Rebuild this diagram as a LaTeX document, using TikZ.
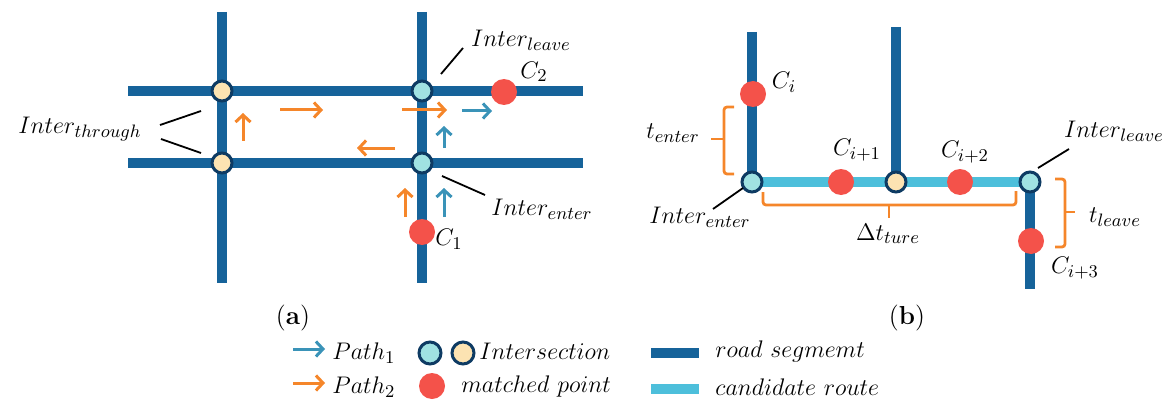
\documentclass[tikz,border=0pt]{standalone}
\usetikzlibrary{arrows.meta}
\DeclareMathSizes{12}{12}{9.5}{7}
\DeclareMathSizes{13}{13}{9.5}{7}
\definecolor{road}{HTML}{16639A}
\definecolor{cand}{HTML}{4DBFDB}
\definecolor{cyanf}{HTML}{A0E2E2}
\definecolor{yelf}{HTML}{FCE3B2}
\definecolor{navy}{HTML}{0E3B63}
\definecolor{redpt}{HTML}{F4524A}
\definecolor{orng}{HTML}{F5862A}
\definecolor{bluea}{HTML}{3A93B8}
\tikzset{
  roadln/.style={draw=road,line width=5pt},
  candln/.style={draw=cand,line width=5pt},
  inter/.style={circle,draw=navy,line width=1.5pt,minimum size=10pt,inner sep=0pt},
  ic/.style={inter,fill=cyanf},
  iy/.style={inter,fill=yelf},
  mpt/.style={circle,fill=redpt,minimum size=13pt,inner sep=0pt},
  lbl/.style={inner sep=1pt,font=\fontsize{12}{14}\selectfont},
  lead/.style={draw=black,line width=0.9pt},
  oarr/.style={draw=orng,line width=1.5pt,-{Straight Barb[length=3.5pt,width=7.5pt]}},
  barr/.style={draw=bluea,line width=1.5pt,-{Straight Barb[length=3.5pt,width=7.5pt]}},
  brc/.style={draw=orng,line width=1.4pt,rounded corners=1.5pt},
}
\begin{document}
\begin{tikzpicture}[x=0.5pt,y=-0.5pt]
\useasboundingbox (0,0) rectangle (1172,401);
% ---------- panel (a) ----------
\draw[roadln] (222,12) -- (222,283);
\draw[roadln] (422,12) -- (422,283);
\draw[roadln] (128,91) -- (583,91);
\draw[roadln] (128,163) -- (583,163);
\node[iy] (a1) at (222,91) {};
\node[iy] (a2) at (222,163) {};
\node[ic] (a3) at (422,91) {};
\node[ic] (a4) at (422,163) {};
\node[mpt] (c2) at (504,92) {};
\node[mpt] (c1) at (422,232) {};
\node[lbl] (c2l) at (534,72) {$C_2$};
\node[lbl] (c1l) at (449,239) {$C_1$};
\node[lbl] (ileave) at (521,40) {$Inter_{leave}$};
\node[lbl] (ienter) at (542,209) {$Inter_{enter}$};
\node[lbl] (ithr) at (80,129) {$Inter_{through}$};
\coordinate (la1) at (463,48); \coordinate (la2) at (441,74);
\draw[lead] (la1) -- (la2);
\coordinate (le1) at (442,176); \coordinate (le2) at (485,195);
\draw[lead] (le1) -- (le2);
\coordinate (lt1) at (160,125); \coordinate (lt2) at (201,111);
\coordinate (lt3) at (161,139); \coordinate (lt4) at (201,153);
\draw[lead] (lt1) -- (lt2);
\draw[lead] (lt3) -- (lt4);
% arrows
\coordinate (p1s) at (243,141); \coordinate (p1e) at (243,113);
\draw[oarr] (p1s) -- (p1e);
\coordinate (p2s) at (280,110); \coordinate (p2e) at (323,110);
\draw[oarr] (p2s) -- (p2e);
\coordinate (p3s) at (402,110); \coordinate (p3e) at (447,110);
\draw[oarr] (p3s) -- (p3e);
\coordinate (p4s) at (395,148); \coordinate (p4e) at (357,148);
\draw[oarr] (p4s) -- (p4e);
\coordinate (p5s) at (405,217); \coordinate (p5e) at (405,188);
\draw[oarr] (p5s) -- (p5e);
\coordinate (q1s) at (444,217); \coordinate (q1e) at (444,188);
\draw[barr] (q1s) -- (q1e);
\coordinate (q2s) at (444,148); \coordinate (q2e) at (444,126);
\draw[barr] (q2s) -- (q2e);
\coordinate (q3s) at (462,111); \coordinate (q3e) at (492,111);
\draw[barr] (q3s) -- (q3e);
\node[lbl,font=\fontsize{13}{15}\selectfont] (capa) at (293,318) {(\textbf{a})};
% ---------- panel (b) ----------
\draw[roadln] (752,32) -- (752,182);
\draw[roadln] (896,27) -- (896,182);
\draw[roadln] (1030,182) -- (1030,289);
\draw[candln] (752,182) -- (1030,182);
\node[ic] (b1) at (752,182) {};
\node[iy] (b2) at (896,182) {};
\node[ic] (b3) at (1030,182) {};
\node[mpt] (ci) at (753,94) {};
\node[mpt] (ci1) at (841,182) {};
\node[mpt] (ci2) at (960,182) {};
\node[mpt] (ci3) at (1031,241) {};
\node[lbl] (cil) at (784,82) {$C_i$};
\node[lbl] (ci1l) at (857,150) {$C_{i+1}$};
\node[lbl] (ci2l) at (965,152) {$C_{i+2}$};
\node[lbl] (ci3l) at (1075,268) {$C_{i+3}$};
\node[lbl] (tent) at (673,133) {$t_{enter}$};
\node[lbl] (tlea) at (1115,217) {$t_{leave}$};
\node[lbl] (dt) at (888,234) {$\Delta t_{ture}$};
\node[lbl] (bleave) at (1114,131) {$Inter_{leave}$};
\node[lbl] (benter) at (700,217) {$Inter_{enter}$};
\coordinate (bl1) at (1069,149); \coordinate (bl2) at (1038,168);
\draw[lead] (bl1) -- (bl2);
\coordinate (be1) at (713,209); \coordinate (be2) at (743,188);
\draw[lead] (be1) -- (be2);
% braces
\draw[brc] (734,107) -- (724,107) -- (724,174) -- (734,174);
\draw[brc] (724,139) -- (711,139);
\draw[brc] (763,192) -- (763,205) -- (1016,205) -- (1016,191);
\draw[brc] (889,205) -- (889,218);
\draw[brc] (1055,179) -- (1065,179) -- (1065,247) -- (1055,247);
\draw[brc] (1065,212) -- (1075,212);
\node[lbl,font=\fontsize{13}{15}\selectfont] (capb) at (907,318) {(\textbf{b})};
% ---------- legend ----------
\coordinate (lg1s) at (293,349); \coordinate (lg1e) at (325,349);
\draw[barr] (lg1s) -- (lg1e);
\node[lbl,anchor=west] (lp1) at (330,353) {$Path_1$};
\coordinate (lg2s) at (293,383); \coordinate (lg2e) at (325,383);
\draw[oarr] (lg2s) -- (lg2e);
\node[lbl,anchor=west] (lp2) at (330,387) {$Path_2$};
\node[ic,minimum size=11pt] (lgc) at (430,353) {};
\node[iy,minimum size=11pt] (lgy) at (463,353) {};
\node[lbl,anchor=west] (lint) at (477,351) {$Intersection$};
\node[mpt] (lgm) at (432,386) {};
\node[lbl,anchor=west] (lmat) at (459,386) {$matched\ point$};
\coordinate (lr1) at (651,353); \coordinate (lr2) at (699,353);
\draw[draw=road,line width=5pt] (lr1) -- (lr2);
\node[lbl,anchor=west] (lroad) at (713,351) {$road\ segmemt$};
\coordinate (lc1) at (651,389); \coordinate (lc2) at (699,389);
\draw[draw=cand,line width=5pt] (lc1) -- (lc2);
\node[lbl,anchor=west] (lcand) at (713,387) {$candidate\ route$};
\end{tikzpicture}
\end{document}
